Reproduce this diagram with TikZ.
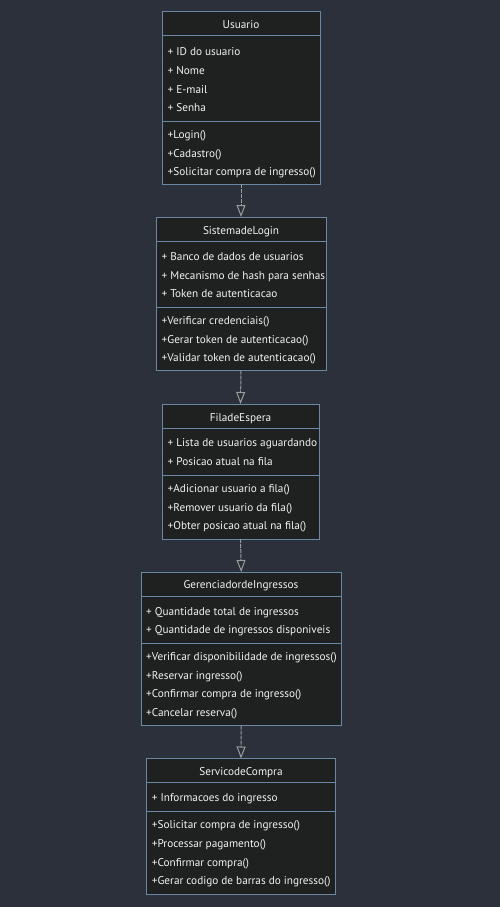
\documentclass[tikz,border=0pt]{standalone}
\usepackage{fontspec}
\setmainfont{PT Sans}
\usetikzlibrary{arrows.meta}
\definecolor{bgc}{HTML}{2B303B}
\definecolor{boxfill}{HTML}{1F2020}
\definecolor{boxline}{HTML}{6A87A5}
\definecolor{txtc}{HTML}{F2F2F2}
\definecolor{arrc}{HTML}{9C9C9C}
\tikzset{
  x=1pt, y=-1pt,
  cls/.style={draw=boxline, fill=boxfill, line width=1pt, inner sep=0pt, outer sep=0pt, anchor=north west},
  sep/.style={draw=boxline, line width=1pt},
  txt/.style={text=txtc, font=\fontsize{11.25}{13}\selectfont, inner sep=0pt, anchor=base west},
  ttl/.style={txt, anchor=base},
  conn/.style={draw=arrc, line width=1pt, dash pattern=on 4pt off 1pt, -{Triangle[open, length=12pt, width=9pt, line width=1pt]}}
}
\newcommand\rowtxt[4]{\node[txt] (#1) at (#2,#3) {#4};}
\begin{document}
\begin{tikzpicture}
\useasboundingbox[fill=bgc] (0,0) rectangle (500,907);

% Usuario
\node[cls, minimum width=158pt, minimum height=172pt] (usuario) at (162,12) {};
\draw[sep] (162,36) -- (320,36);
\draw[sep] (162,121) -- (320,121);
\node[ttl] (usuarioT) at (241,28.5) {Usuario};
\rowtxt{u1}{167.5}{56}{+ ID do usuario}
\rowtxt{u2}{167.5}{74.5}{+ Nome}
\rowtxt{u3}{167.5}{93}{+ E-mail}
\rowtxt{u4}{167.5}{111.5}{+ Senha}
\rowtxt{u5}{167.5}{138.5}{+Login()}
\rowtxt{u6}{167.5}{157}{+Cadastro()}
\rowtxt{u7}{167.5}{175.5}{+Solicitar compra de ingresso()}

% SistemadeLogin
\node[cls, minimum width=170pt, minimum height=153.5pt] (login) at (156,217) {};
\draw[sep] (156,241.5) -- (326,241.5);
\draw[sep] (156,307.5) -- (326,307.5);
\node[ttl] (loginT) at (241,234) {SistemadeLogin};
\rowtxt{l1}{161.5}{260.7}{+ Banco de dados de usuarios}
\rowtxt{l2}{161.5}{279}{+ Mecanismo de hash para senhas}
\rowtxt{l3}{161.5}{297.5}{+ Token de autenticacao}
\rowtxt{l4}{161.5}{324.5}{+Verificar credenciais()}
\rowtxt{l5}{161.5}{343}{+Gerar token de autenticacao()}
\rowtxt{l6}{161.5}{361.5}{+Validar token de autenticacao()}

% FiladeEspera
\node[cls, minimum width=157pt, minimum height=135pt] (fila) at (162,404) {};
\draw[sep] (162,428) -- (319,428);
\draw[sep] (162,475.5) -- (319,475.5);
\node[ttl] (filaT) at (240.5,421) {FiladeEspera};
\rowtxt{f1}{167.5}{446.7}{+ Lista de usuarios aguardando}
\rowtxt{f2}{167.5}{465.5}{+ Posicao atual na fila}
\rowtxt{f3}{167.5}{492.7}{+Adicionar usuario a fila()}
\rowtxt{f4}{167.5}{511}{+Remover usuario da fila()}
\rowtxt{f5}{167.5}{529.5}{+Obter posicao atual na fila()}

% GerenciadordeIngressos
\node[cls, minimum width=200.5pt, minimum height=153.5pt] (ger) at (141,572) {};
\draw[sep] (141,596) -- (341.5,596);
\draw[sep] (141,643.3) -- (341.5,643.3);
\node[ttl] (gerT) at (241,588.7) {GerenciadordeIngressos};
\rowtxt{g1}{146}{615}{+ Quantidade total de ingressos}
\rowtxt{g2}{146}{633.7}{+ Quantidade de ingressos disponiveis}
\rowtxt{g3}{146}{660.7}{+Verificar disponibilidade de ingressos()}
\rowtxt{g4}{146}{679}{+Reservar ingresso()}
\rowtxt{g5}{146}{697.7}{+Confirmar compra de ingresso()}
\rowtxt{g6}{146}{716}{+Cancelar reserva()}

% ServicodeCompra
\node[cls, minimum width=189pt, minimum height=135.5pt] (serv) at (146.5,758.5) {};
\draw[sep] (146.5,782.7) -- (335.5,782.7);
\draw[sep] (146.5,811.7) -- (335.5,811.7);
\node[ttl] (servT) at (241,775.7) {ServicodeCompra};
\rowtxt{s1}{151.7}{801.7}{+ Informacoes do ingresso}
\rowtxt{s2}{151.7}{828.7}{+Solicitar compra de ingresso()}
\rowtxt{s3}{151.7}{847}{+Processar pagamento()}
\rowtxt{s4}{151.7}{866}{+Confirmar compra()}
\rowtxt{s5}{151.7}{884.5}{+Gerar codigo de barras do ingresso()}

% connectors
\draw[conn] (usuario.south) -- (login.north);
\draw[conn] (login.south) -- (fila.north);
\draw[conn] (fila.south) -- (ger.north);
\draw[conn] (ger.south) -- (serv.north);
\end{tikzpicture}
\end{document}
